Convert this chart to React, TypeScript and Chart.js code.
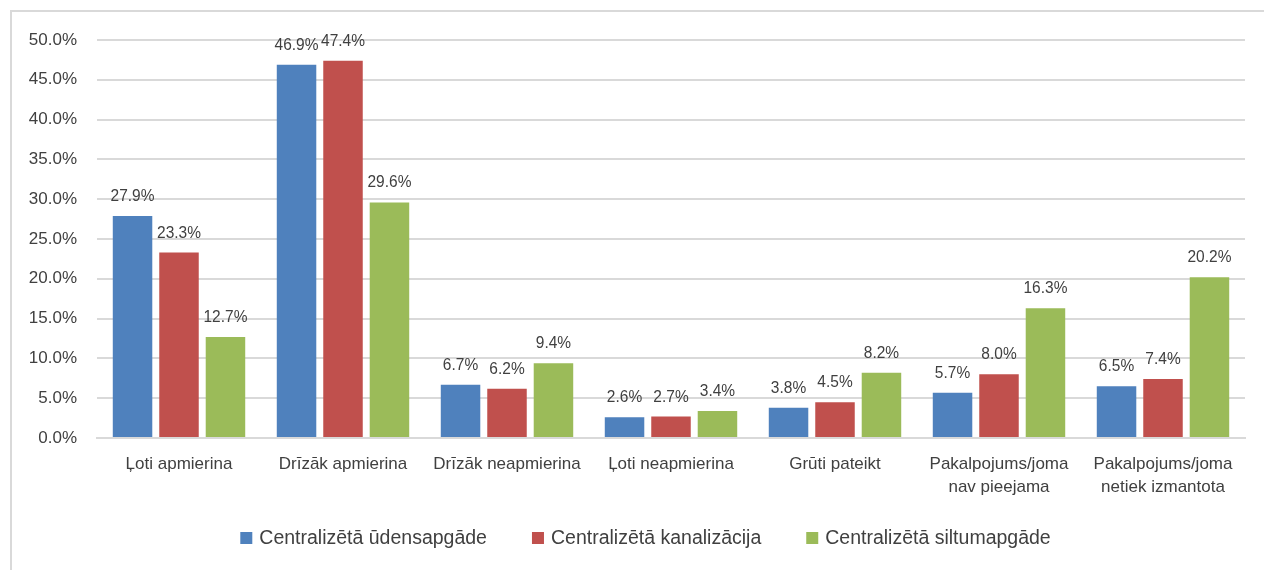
import React, { useEffect, useRef } from "react";
import { Chart, registerables } from "chart.js";

Chart.register(...registerables);

const categories: (string | string[])[] = [
  "Ļoti apmierina",
  "Drīzāk apmierina",
  "Drīzāk neapmierina",
  "Ļoti neapmierina",
  "Grūti pateikt",
  ["Pakalpojums/joma", "nav pieejama"],
  ["Pakalpojums/joma", "netiek izmantota"],
];
const seriesNames = [
  "Centralizētā ūdensapgāde",
  "Centralizētā kanalizācija",
  "Centralizētā siltumapgāde",
];
const water = [27.9, 46.9, 6.7, 2.6, 3.8, 5.7, 6.5];
const sewer = [23.3, 47.4, 6.2, 2.7, 4.5, 8.0, 7.4];
const heat = [12.7, 29.6, 9.4, 3.4, 8.2, 16.3, 20.2];
const colors = ["#4F81BD", "#C0504D", "#9BBB59"];

const FONT = "'Liberation Sans', Arial, sans-serif";
const TEXT = "#404040";

const labelPlugin = {
  id: "barLabels",
  afterDatasetsDraw(chart: any) {
    const ctx = chart.ctx;
    ctx.save();
    ctx.font = `15.5px ${FONT}`;
    ctx.fillStyle = TEXT;
    ctx.textAlign = "center";
    ctx.textBaseline = "alphabetic";
    chart.data.datasets.forEach((ds: any, di: number) => {
      const meta = chart.getDatasetMeta(di);
      meta.data.forEach((el: any, i: number) => {
        const v = ds.data[i];
        ctx.save();
        ctx.translate(el.x, el.y - 15);
        ctx.scale(1, 1.12);
        ctx.fillText(v.toFixed(1) + "%", 0, 0);
        ctx.restore();
      });
    });
    ctx.restore();
  },
};

const legendPlugin = {
  id: "bottomLegend",
  afterDraw(chart: any) {
    const ctx = chart.ctx;
    ctx.save();
    ctx.font = `19.5px ${FONT}`;
    ctx.textBaseline = "middle";
    ctx.textAlign = "left";
    const box = 12;
    const gap = 7;
    const spacing = 45;
    const items = chart.data.datasets.map((ds: any) => ({
      text: ds.label,
      color: ds.backgroundColor,
      w: box + gap + ctx.measureText(ds.label).width,
    }));
    const total = items.reduce((s: number, it: any) => s + it.w, 0) + spacing * (items.length - 1);
    const cy = 538;
    let x = 645.5 - total / 2;
    items.forEach((it: any) => {
      ctx.fillStyle = it.color;
      ctx.fillRect(x, cy - box / 2, box, box);
      ctx.fillStyle = TEXT;
      ctx.fillText(it.text, x + box + gap, cy + 1);
      x += it.w + spacing;
    });
    ctx.restore();
  },
};

export default function App() {
  const ref = useRef<HTMLCanvasElement>(null);
  useEffect(() => {
    const chart = new Chart(ref.current!, {
      type: "bar",
      data: {
        labels: categories,
        datasets: [water, sewer, heat].map((d, i) => ({
          label: seriesNames[i],
          data: d,
          backgroundColor: colors[i],
          borderWidth: 0,
          categoryPercentage: 0.85,
          barPercentage: 0.85,
        })),
      },
      options: {
        animation: false,
        responsive: false,
        maintainAspectRatio: false,
        layout: { padding: { left: 0, right: 19, top: 40, bottom: 32 } },
        plugins: {
          tooltip: { enabled: false },
          legend: { display: false },
        },
        scales: {
          x: {
            grid: { display: false },
            border: { color: "#d9d9d9", width: 2 },
            ticks: {
              color: TEXT,
              font: { family: FONT, size: 17, lineHeight: 1.4 },
              padding: 6,
              maxRotation: 0,
              autoSkip: false,
            },
            afterFit: (s: any) => {
              s.height = 100;
            },
          },
          y: {
            min: 0,
            max: 50,
            border: { display: false },
            grid: { color: "#d9d9d9", lineWidth: 2, drawTicks: false },
            ticks: {
              stepSize: 5,
              color: TEXT,
              font: { family: FONT, size: 17 },
              padding: 20,
              callback: (v: any) => Number(v).toFixed(1) + "%",
            },
            afterFit: (s: any) => {
              s.width = 97;
            },
          },
        },
      },
      plugins: [labelPlugin, legendPlugin],
    });
    return () => chart.destroy();
  }, []);
  return (
    <div style={{ position: "fixed", left: 0, top: 0, width: 1264, height: 570, background: "#fff" }}>
      <div
        style={{
          position: "absolute",
          left: 10,
          top: 10,
          width: 1270,
          height: 600,
          border: "2px solid #d9d9d9",
          boxSizing: "border-box",
        }}
      />
      <canvas ref={ref} width={1264} height={570} style={{ position: "absolute", left: 0, top: 0 }} />
    </div>
  );
}
